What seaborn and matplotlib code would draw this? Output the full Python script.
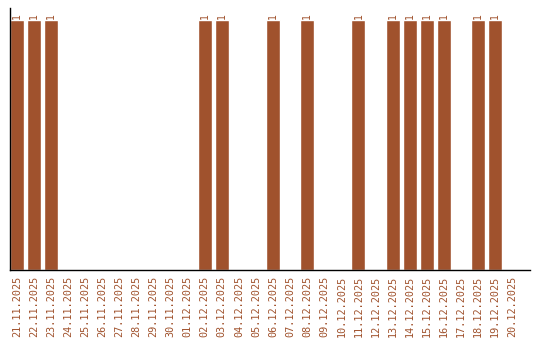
import matplotlib
matplotlib.use("Agg")
import matplotlib.pyplot as plt
import seaborn as sns
import pandas as pd

dates = ["21.11.2025", "22.11.2025", "23.11.2025", "24.11.2025", "25.11.2025",
         "26.11.2025", "27.11.2025", "28.11.2025", "29.11.2025", "30.11.2025",
         "01.12.2025", "02.12.2025", "03.12.2025", "04.12.2025", "05.12.2025",
         "06.12.2025", "07.12.2025", "08.12.2025", "09.12.2025", "10.12.2025",
         "11.12.2025", "12.12.2025", "13.12.2025", "14.12.2025", "15.12.2025",
         "16.12.2025", "17.12.2025", "18.12.2025", "19.12.2025", "20.12.2025"]
counts = [1, 1, 1, 0, 0, 0, 0, 0, 0, 0,
          0, 1, 1, 0, 0, 1, 0, 1, 0, 0,
          1, 0, 1, 1, 1, 1, 0, 1, 1, 0]

color = "#A0522D"
sns.set_style("white")
plt.rcParams["font.family"] = ["DejaVu Sans Mono", "DejaVu Sans"]

df = pd.DataFrame({"date": dates, "count": counts})
fig = plt.figure(figsize=(5.4, 3.4), dpi=100)
ax = fig.add_axes([10/540, 70/340, 520/540, 262/340])
sns.barplot(data=df, x="date", y="count", color=color, saturation=1, width=0.82, ax=ax)

for p, v in zip(ax.patches, counts):
    if v > 0:
        ax.text(p.get_x() + p.get_width()/2, v + 0.005, str(v), rotation=90,
                ha="center", va="bottom", fontsize=7, color=color)

ax.set_xlim(-0.41, 30.05)
ax.set_ylim(0, 1.048)
ax.set_xlabel("")
ax.set_ylabel("")
ax.set_yticks([])
ax.tick_params(axis="x", length=0, pad=4, labelsize=7.3, labelcolor=color, rotation=90)
for s in ["top", "right"]:
    ax.spines[s].set_visible(False)
for s in ["left", "bottom"]:
    ax.spines[s].set_color("black")
    ax.spines[s].set_linewidth(1)
fig.savefig("out.png", dpi=100)
